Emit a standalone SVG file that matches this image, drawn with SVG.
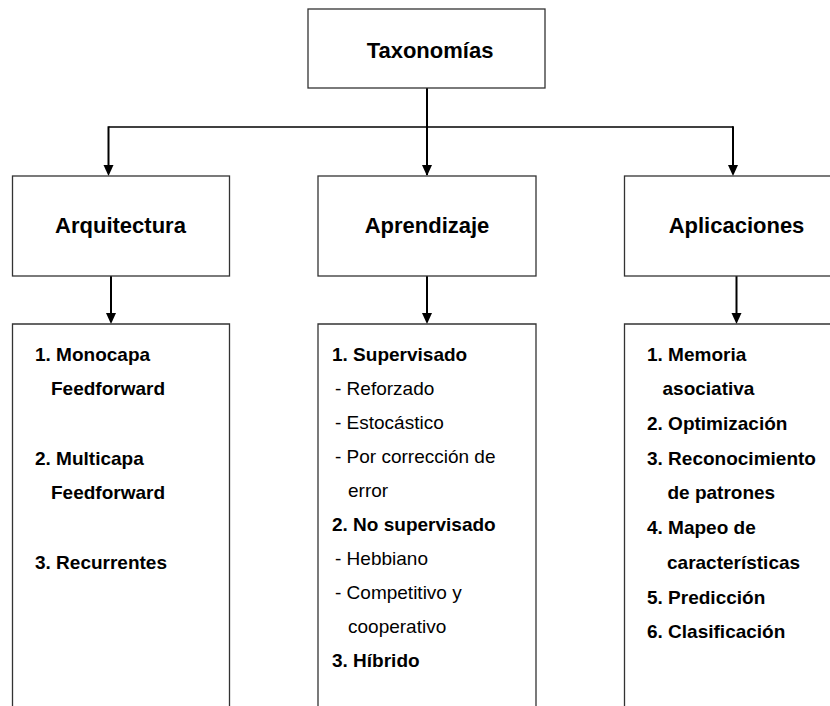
<svg xmlns="http://www.w3.org/2000/svg" width="830" height="706" viewBox="0 0 830 706">
  <style>
    .box { fill: #ffffff; stroke: #333333; stroke-width: 1.3; }
    .hd { font-family: "Liberation Sans", Arial, sans-serif; font-weight: bold; font-size: 22px; fill: #000; text-anchor: middle; }
    .b { font-family: "Liberation Sans", Arial, sans-serif; font-weight: bold; font-size: 19px; fill: #000; }
    .r { font-family: "Liberation Sans", Arial, sans-serif; font-size: 19px; fill: #000; }
    .v { stroke: #000; stroke-width: 2; fill: none; }
    .h { stroke: #000; stroke-width: 1.4; fill: none; }
  </style>
  <defs>
    <marker id="arr" markerWidth="10" markerHeight="11" refX="5" refY="11" orient="auto-start-reverse" markerUnits="userSpaceOnUse" viewBox="0 0 10 11">
      <path d="M0,0 L10,0 L5,11 Z" fill="#000"/>
    </marker>
  </defs>
  <rect width="830" height="706" fill="#ffffff"/>

  <g id="connectors">
    <line class="v" x1="427" y1="88" x2="427" y2="175"/>
    <line class="h" x1="108.5" y1="127" x2="733" y2="127"/>
    <line class="v" x1="108.5" y1="126.3" x2="108.5" y2="165" />
    <path d="M103.5,165 L113.5,165 L108.5,176 Z" fill="#000"/>
    <line class="v" x1="733" y1="126.3" x2="733" y2="165" />
    <path d="M728,165 L738,165 L733,176 Z" fill="#000"/>
    <path d="M422,165 L432,165 L427,176 Z" fill="#000"/>
    <line class="v" x1="111" y1="276" x2="111" y2="313"/>
    <path d="M106,313 L116,313 L111,324 Z" fill="#000"/>
    <line class="v" x1="427" y1="276" x2="427" y2="313"/>
    <path d="M422,313 L432,313 L427,324 Z" fill="#000"/>
    <line class="v" x1="736.5" y1="276" x2="736.5" y2="313"/>
    <path d="M731.5,313 L741.5,313 L736.5,324 Z" fill="#000"/>
  </g>

  <g id="taxonomias">
    <rect class="box" x="308" y="9" width="237" height="79"/>
    <text class="hd" x="430" y="57.5">Taxonomías</text>
  </g>

  <g id="arquitectura">
    <rect class="box" x="12.5" y="176" width="217" height="100"/>
    <text class="hd" x="120.5" y="232.5">Arquitectura</text>
  </g>

  <g id="aprendizaje">
    <rect class="box" x="318" y="176" width="218" height="100"/>
    <text class="hd" x="427" y="232.5">Aprendizaje</text>
  </g>

  <g id="aplicaciones">
    <rect class="box" x="624.5" y="176" width="230" height="100"/>
    <text class="hd" x="736.5" y="232.5">Aplicaciones</text>
  </g>

  <g id="arquitectura-list">
    <path class="box" d="M12.5,720 L12.5,324 L229.5,324 L229.5,720"/>
    <text class="b" x="35" y="360.5">1. Monocapa</text>
    <text class="b" x="51" y="395.2">Feedforward</text>
    <text class="b" x="35" y="464.8">2. Multicapa</text>
    <text class="b" x="51" y="499.4">Feedforward</text>
    <text class="b" x="35" y="568.6">3. Recurrentes</text>
  </g>

  <g id="aprendizaje-list">
    <path class="box" d="M318,720 L318,324 L536,324 L536,720"/>
    <text class="b" x="332" y="360.5">1. Supervisado</text>
    <text class="r" x="335" y="394.5">- Reforzado</text>
    <text class="r" x="335" y="428.6">- Estocástico</text>
    <text class="r" x="335" y="462.7">- Por corrección de</text>
    <text class="r" x="348" y="496.8">error</text>
    <text class="b" x="332" y="530.9">2. No supervisado</text>
    <text class="r" x="335" y="565">- Hebbiano</text>
    <text class="r" x="335" y="599.1">- Competitivo y</text>
    <text class="r" x="348" y="633.2">cooperativo</text>
    <text class="b" x="332" y="667.3">3. Híbrido</text>
  </g>

  <g id="aplicaciones-list">
    <path class="box" d="M624.5,720 L624.5,324 L854,324 L854,720"/>
    <text class="b" x="647" y="360.6">1. Memoria</text>
    <text class="b" x="662.5" y="395.3">asociativa</text>
    <text class="b" x="647" y="430">2. Optimización</text>
    <text class="b" x="647" y="464.7">3. Reconocimiento</text>
    <text class="b" x="667.5" y="499.4">de patrones</text>
    <text class="b" x="647" y="534.1">4. Mapeo de</text>
    <text class="b" x="667" y="568.8">características</text>
    <text class="b" x="647" y="603.5">5. Predicción</text>
    <text class="b" x="647" y="638.2">6. Clasificación</text>
  </g>
</svg>
